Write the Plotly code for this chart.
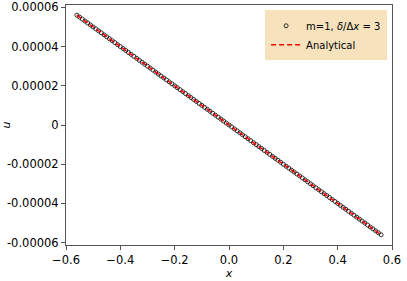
import plotly.graph_objects as go

# numerical solution samples
x_num = [-0.56, -0.55, -0.54, -0.53, -0.52, -0.51, -0.50, -0.49, -0.48, -0.47,
         -0.46, -0.45, -0.44, -0.43, -0.42, -0.41, -0.40, -0.39, -0.38, -0.37,
         -0.36, -0.35, -0.34, -0.33, -0.32, -0.31, -0.30, -0.29, -0.28, -0.27,
         -0.26, -0.25, -0.24, -0.23, -0.22, -0.21, -0.20, -0.19, -0.18, -0.17,
         -0.16, -0.15, -0.14, -0.13, -0.12, -0.11, -0.10, -0.09, -0.08, -0.07,
         -0.06, -0.05, -0.04, -0.03, -0.02, -0.01, 0.00, 0.01, 0.02, 0.03,
         0.04, 0.05, 0.06, 0.07, 0.08, 0.09, 0.10, 0.11, 0.12, 0.13,
         0.14, 0.15, 0.16, 0.17, 0.18, 0.19, 0.20, 0.21, 0.22, 0.23,
         0.24, 0.25, 0.26, 0.27, 0.28, 0.29, 0.30, 0.31, 0.32, 0.33,
         0.34, 0.35, 0.36, 0.37, 0.38, 0.39, 0.40, 0.41, 0.42, 0.43,
         0.44, 0.45, 0.46, 0.47, 0.48, 0.49, 0.50, 0.51, 0.52, 0.53,
         0.54, 0.55, 0.56]
u_num = [5.6e-5, 5.5e-5, 5.4e-5, 5.3e-5, 5.2e-5, 5.1e-5, 5.0e-5, 4.9e-5, 4.8e-5, 4.7e-5,
         4.6e-5, 4.5e-5, 4.4e-5, 4.3e-5, 4.2e-5, 4.1e-5, 4.0e-5, 3.9e-5, 3.8e-5, 3.7e-5,
         3.6e-5, 3.5e-5, 3.4e-5, 3.3e-5, 3.2e-5, 3.1e-5, 3.0e-5, 2.9e-5, 2.8e-5, 2.7e-5,
         2.6e-5, 2.5e-5, 2.4e-5, 2.3e-5, 2.2e-5, 2.1e-5, 2.0e-5, 1.9e-5, 1.8e-5, 1.7e-5,
         1.6e-5, 1.5e-5, 1.4e-5, 1.3e-5, 1.2e-5, 1.1e-5, 1.0e-5, 0.9e-5, 0.8e-5, 0.7e-5,
         0.6e-5, 0.5e-5, 0.4e-5, 0.3e-5, 0.2e-5, 0.1e-5, 0.0, -0.1e-5, -0.2e-5, -0.3e-5,
         -0.4e-5, -0.5e-5, -0.6e-5, -0.7e-5, -0.8e-5, -0.9e-5, -1.0e-5, -1.1e-5, -1.2e-5, -1.3e-5,
         -1.4e-5, -1.5e-5, -1.6e-5, -1.7e-5, -1.8e-5, -1.9e-5, -2.0e-5, -2.1e-5, -2.2e-5, -2.3e-5,
         -2.4e-5, -2.5e-5, -2.6e-5, -2.7e-5, -2.8e-5, -2.9e-5, -3.0e-5, -3.1e-5, -3.2e-5, -3.3e-5,
         -3.4e-5, -3.5e-5, -3.6e-5, -3.7e-5, -3.8e-5, -3.9e-5, -4.0e-5, -4.1e-5, -4.2e-5, -4.3e-5,
         -4.4e-5, -4.5e-5, -4.6e-5, -4.7e-5, -4.8e-5, -4.9e-5, -5.0e-5, -5.1e-5, -5.2e-5, -5.3e-5,
         -5.4e-5, -5.5e-5, -5.6e-5]

# analytical line
x_an = [-0.56, 0.56]
u_an = [5.6e-5, -5.6e-5]

x_ticks = [-0.6, -0.4, -0.2, 0.0, 0.2, 0.4, 0.6]
x_labels = ["\u22120.6", "\u22120.4", "\u22120.2", "0.0", "0.2", "0.4", "0.6"]
y_ticks = [-6e-5, -4e-5, -2e-5, 0, 2e-5, 4e-5, 6e-5]
y_labels = ["-0.00006", "-0.00004", "-0.00002", "0", "0.00002", "0.00004", "0.00006"]

fig = go.Figure()

fig.add_trace(go.Scatter(
    x=x_num, y=u_num, mode='markers',
    marker=dict(symbol='circle-open', size=4, color='black', line=dict(width=0.8)),
    name='m=1, <i>δ</i>/Δ<i>x</i> = 3'
))

fig.add_trace(go.Scatter(
    x=x_an, y=u_an, mode='lines',
    line=dict(color='red', width=1.5, dash='5px,3px'),
    name='Analytical'
))

axis_common = dict(
    showgrid=False, zeroline=False, showline=True, linecolor='#555', linewidth=1,
    mirror=True, ticks='outside', ticklen=4, tickcolor='#555', automargin=False,
    tickfont=dict(size=11.5, color='black'),
)

fig.update_layout(
    width=407, height=281,
    plot_bgcolor='white', paper_bgcolor='white',
    font=dict(family='DejaVu Sans', size=11, color='black'),
    margin=dict(l=66, r=15, t=5, b=36),
    showlegend=True,
    legend=dict(
        x=0.985, y=0.978, xanchor='right', yanchor='top',
        bgcolor='rgba(245,222,179,0.85)', bordercolor='rgba(245,222,179,0.85)', borderwidth=1,
        font=dict(size=10), tracegroupgap=0, itemwidth=30
    ),
    xaxis=dict(range=[-0.6, 0.6], tickvals=x_ticks, ticktext=x_labels,
               title=dict(text='<i>x</i>', standoff=0, font=dict(size=11)), **axis_common),
    yaxis=dict(range=[-6.12e-5, 6.12e-5], tickvals=y_ticks, ticktext=y_labels,
               title=dict(text='<i>u</i>', standoff=0, font=dict(size=11)), **axis_common),
)

# page body has a default margin, drop it so the figure sits at the window corner
fig.write_html("out.html", config={'displayModeBar': False},
               post_script="document.body.style.margin='0';")
